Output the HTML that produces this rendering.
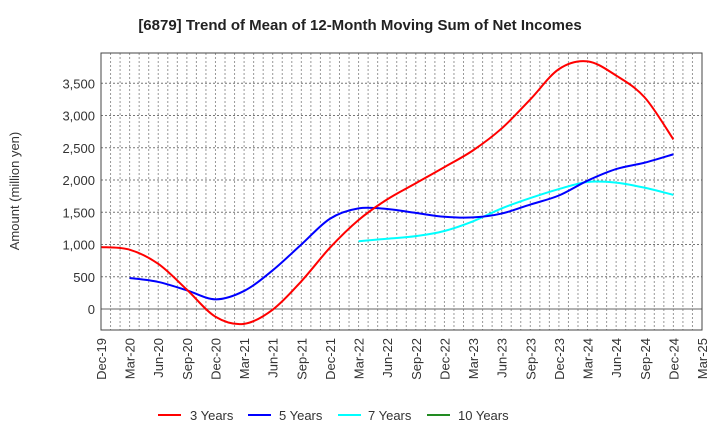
<!DOCTYPE html>
<html><head><meta charset="utf-8"><style>
body{margin:0;background:#fff;font-family:"Liberation Sans",sans-serif;}
</style></head><body>
<svg id="c" width="720" height="440" xmlns="http://www.w3.org/2000/svg" font-family="Liberation Sans, sans-serif">
<text x="360" y="30" text-anchor="middle" font-size="15" font-weight="bold" fill="#222">[6879]  Trend of Mean of 12-Month Moving Sum of Net Incomes</text>
<text transform="translate(19,191) rotate(-90)" text-anchor="middle" font-size="13" fill="#333">Amount (million yen)</text>
<g id="grid"></g><g id="series"></g><g id="axes"></g>
<g font-size="13" fill="#333">
<line x1="158" y1="415" x2="181" y2="415" stroke="#f00" stroke-width="2"/><text x="190" y="420">3 Years</text>
<line x1="248" y1="415" x2="271" y2="415" stroke="#00f" stroke-width="2"/><text x="279" y="420">5 Years</text>
<line x1="338" y1="415" x2="361" y2="415" stroke="#0ff" stroke-width="2"/><text x="368" y="420">7 Years</text>
<line x1="427" y1="415" x2="450" y2="415" stroke="#228b22" stroke-width="2"/><text x="458" y="420">10 Years</text>
</g>
</svg>
<script>
const xLabels=["Dec-19","Mar-20","Jun-20","Sep-20","Dec-20","Mar-21","Jun-21","Sep-21","Dec-21","Mar-22","Jun-22","Sep-22","Dec-22","Mar-23","Jun-23","Sep-23","Dec-23","Mar-24","Jun-24","Sep-24","Dec-24","Mar-25"];
const yTicks=[0,500,1000,1500,2000,2500,3000,3500];
const s3=[960,920,700,300,-120,-230,-10,430,950,1380,1700,1950,2200,2460,2800,3250,3720,3840,3620,3280,2630];
const s5=[null,480,420,290,150,280,600,1000,1400,1560,1550,1490,1430,1420,1480,1620,1760,1990,2170,2270,2400];
const s7=[null,null,null,null,null,null,null,null,null,1050,1090,1130,1210,1360,1560,1720,1860,1970,1960,1880,1770];
const s10=[];
const L=101,R=702,T=53,B=330;
const X=q=>L+q*3*(R-L)/63;
const Y=v=>309-v*(309-83.3)/3500;
const NS="http://www.w3.org/2000/svg";
function mk(t,a,p){const e=document.createElementNS(NS,t);for(const k in a)e.setAttribute(k,a[k]);p.appendChild(e);return e;}
const g=document.getElementById('grid'),ax=document.getElementById('axes'),se=document.getElementById('series');
for(let m=1;m<63;m++){const l=mk('line',{x1:L+m*(R-L)/63,x2:L+m*(R-L)/63,y1:T,y2:B,stroke:'#999','stroke-width':1,'stroke-dasharray':'2,2'},g);

}
yTicks.forEach(v=>{const l=mk('line',{x1:L,x2:R,y1:Y(v),y2:Y(v),stroke:v===0?'#666':'#777','stroke-width':1,'stroke-dasharray':v===0?'':'2,2'},g);


const t=mk('text',{x:L-6,y:Y(v)+5,'text-anchor':'end','font-size':13,fill:'#333'},ax);t.textContent=v.toLocaleString('en-US');

});
xLabels.forEach((s,i)=>{const t=mk('text',{transform:`translate(${X(i)+5},338) rotate(-90)`,'text-anchor':'end','font-size':13,fill:'#333'},ax);t.textContent=s;

});
const fr=mk('rect',{x:L,y:T,width:R-L,height:B-T,fill:'none',stroke:'#444','stroke-width':1},ax);


function path(arr){const p=[];arr.forEach((v,i)=>{if(v!=null)p.push([X(i),Y(v)]);});if(p.length<2)return'';
let d=`M${p[0][0]},${p[0][1]}`;for(let i=0;i<p.length-1;i++){const p0=p[i-1]||p[i],p1=p[i],p2=p[i+1],p3=p[i+2]||p2;
d+=` C${p1[0]+(p2[0]-p0[0])/6},${p1[1]+(p2[1]-p0[1])/6} ${p2[0]-(p3[0]-p1[0])/6},${p2[1]-(p3[1]-p1[1])/6} ${p2[0]},${p2[1]}`;}return d;}
[[s7,'#0ff','series-7-years'],[s5,'#00f','series-5-years'],[s3,'#f00','series-3-years'],[s10,'#228b22','series-10-years']].forEach(([a,c,n])=>{const d=path(a);if(!d)return;
const e=mk('path',{d:d,fill:'none',stroke:c,'stroke-width':2},se);

});
</script>
</body></html>
